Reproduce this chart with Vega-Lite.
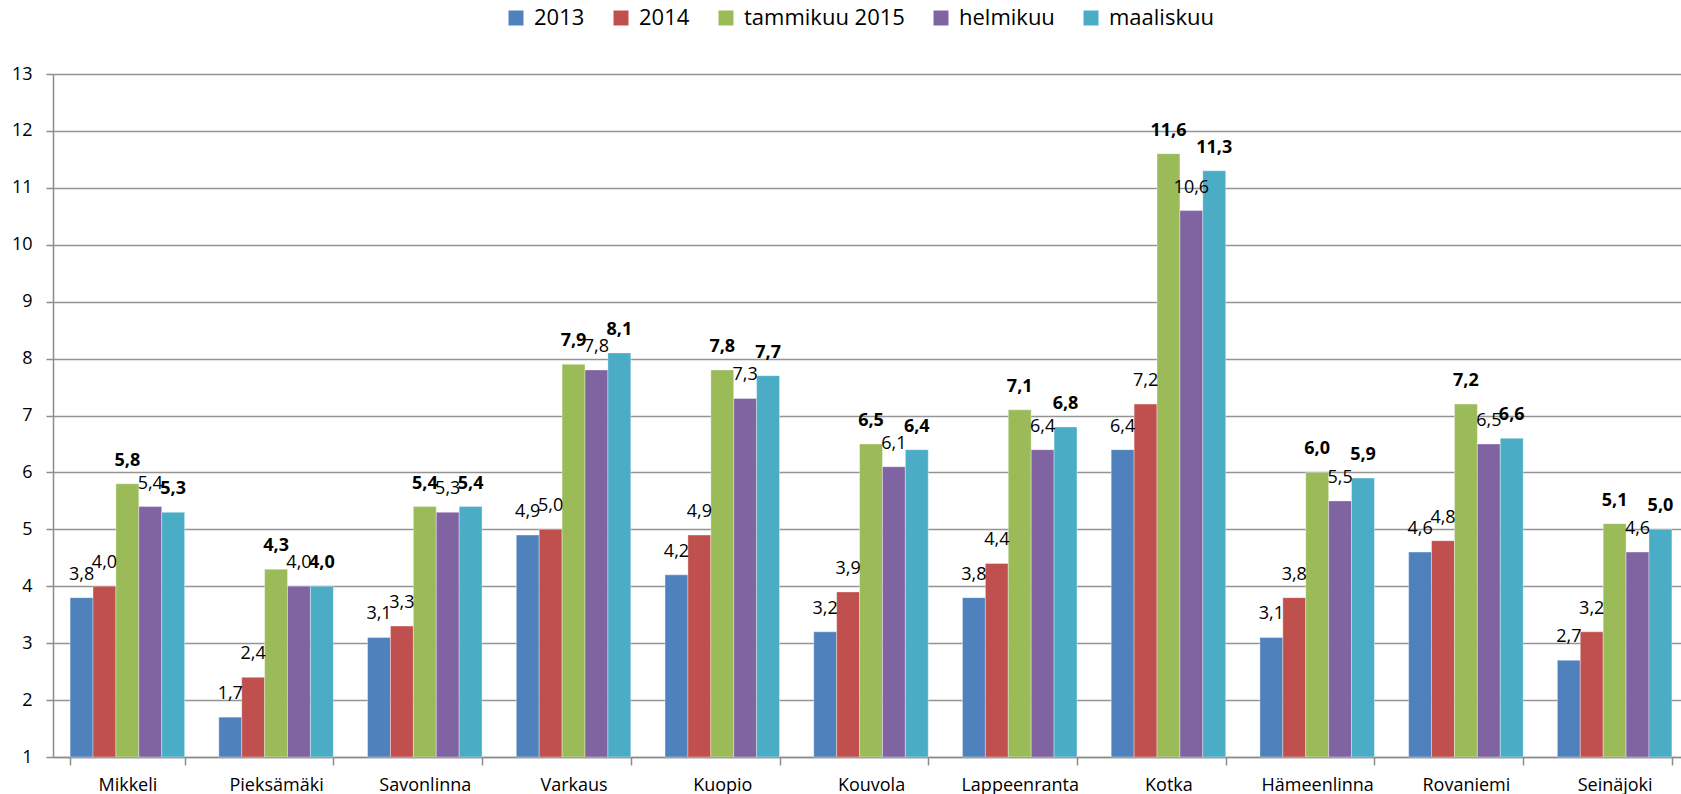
{
  "$schema": "https://vega.github.io/schema/vega-lite/v6.json",
  "width": 1628,
  "height": 683,
  "autosize": {"type": "none"},
  "padding": {"left": 53, "top": 74, "right": 0, "bottom": 37},
  "background": "white",
  "config": {
    "view": {"stroke": null},
    "font": "Open Sans",
    "axis": {"labelFont": "Open Sans", "labelColor": "#000000"},
    "legend": {"labelFont": "Open Sans"}
  },
  "data": {
    "values": [
      {"kaupunki": "Mikkeli", "sarja": "2013", "arvo": 3.8},
      {"kaupunki": "Mikkeli", "sarja": "2014", "arvo": 4.0},
      {"kaupunki": "Mikkeli", "sarja": "tammikuu 2015", "arvo": 5.8},
      {"kaupunki": "Mikkeli", "sarja": "helmikuu", "arvo": 5.4},
      {"kaupunki": "Mikkeli", "sarja": "maaliskuu", "arvo": 5.3},
      {"kaupunki": "Pieksämäki", "sarja": "2013", "arvo": 1.7},
      {"kaupunki": "Pieksämäki", "sarja": "2014", "arvo": 2.4},
      {"kaupunki": "Pieksämäki", "sarja": "tammikuu 2015", "arvo": 4.3},
      {"kaupunki": "Pieksämäki", "sarja": "helmikuu", "arvo": 4.0},
      {"kaupunki": "Pieksämäki", "sarja": "maaliskuu", "arvo": 4.0},
      {"kaupunki": "Savonlinna", "sarja": "2013", "arvo": 3.1},
      {"kaupunki": "Savonlinna", "sarja": "2014", "arvo": 3.3},
      {"kaupunki": "Savonlinna", "sarja": "tammikuu 2015", "arvo": 5.4},
      {"kaupunki": "Savonlinna", "sarja": "helmikuu", "arvo": 5.3},
      {"kaupunki": "Savonlinna", "sarja": "maaliskuu", "arvo": 5.4},
      {"kaupunki": "Varkaus", "sarja": "2013", "arvo": 4.9},
      {"kaupunki": "Varkaus", "sarja": "2014", "arvo": 5.0},
      {"kaupunki": "Varkaus", "sarja": "tammikuu 2015", "arvo": 7.9},
      {"kaupunki": "Varkaus", "sarja": "helmikuu", "arvo": 7.8},
      {"kaupunki": "Varkaus", "sarja": "maaliskuu", "arvo": 8.1},
      {"kaupunki": "Kuopio", "sarja": "2013", "arvo": 4.2},
      {"kaupunki": "Kuopio", "sarja": "2014", "arvo": 4.9},
      {"kaupunki": "Kuopio", "sarja": "tammikuu 2015", "arvo": 7.8},
      {"kaupunki": "Kuopio", "sarja": "helmikuu", "arvo": 7.3},
      {"kaupunki": "Kuopio", "sarja": "maaliskuu", "arvo": 7.7},
      {"kaupunki": "Kouvola", "sarja": "2013", "arvo": 3.2},
      {"kaupunki": "Kouvola", "sarja": "2014", "arvo": 3.9},
      {"kaupunki": "Kouvola", "sarja": "tammikuu 2015", "arvo": 6.5},
      {"kaupunki": "Kouvola", "sarja": "helmikuu", "arvo": 6.1},
      {"kaupunki": "Kouvola", "sarja": "maaliskuu", "arvo": 6.4},
      {"kaupunki": "Lappeenranta", "sarja": "2013", "arvo": 3.8},
      {"kaupunki": "Lappeenranta", "sarja": "2014", "arvo": 4.4},
      {"kaupunki": "Lappeenranta", "sarja": "tammikuu 2015", "arvo": 7.1},
      {"kaupunki": "Lappeenranta", "sarja": "helmikuu", "arvo": 6.4},
      {"kaupunki": "Lappeenranta", "sarja": "maaliskuu", "arvo": 6.8},
      {"kaupunki": "Kotka", "sarja": "2013", "arvo": 6.4},
      {"kaupunki": "Kotka", "sarja": "2014", "arvo": 7.2},
      {"kaupunki": "Kotka", "sarja": "tammikuu 2015", "arvo": 11.6},
      {"kaupunki": "Kotka", "sarja": "helmikuu", "arvo": 10.6},
      {"kaupunki": "Kotka", "sarja": "maaliskuu", "arvo": 11.3},
      {"kaupunki": "Hämeenlinna", "sarja": "2013", "arvo": 3.1},
      {"kaupunki": "Hämeenlinna", "sarja": "2014", "arvo": 3.8},
      {"kaupunki": "Hämeenlinna", "sarja": "tammikuu 2015", "arvo": 6.0},
      {"kaupunki": "Hämeenlinna", "sarja": "helmikuu", "arvo": 5.5},
      {"kaupunki": "Hämeenlinna", "sarja": "maaliskuu", "arvo": 5.9},
      {"kaupunki": "Rovaniemi", "sarja": "2013", "arvo": 4.6},
      {"kaupunki": "Rovaniemi", "sarja": "2014", "arvo": 4.8},
      {"kaupunki": "Rovaniemi", "sarja": "tammikuu 2015", "arvo": 7.2},
      {"kaupunki": "Rovaniemi", "sarja": "helmikuu", "arvo": 6.5},
      {"kaupunki": "Rovaniemi", "sarja": "maaliskuu", "arvo": 6.6},
      {"kaupunki": "Seinäjoki", "sarja": "2013", "arvo": 2.7},
      {"kaupunki": "Seinäjoki", "sarja": "2014", "arvo": 3.2},
      {"kaupunki": "Seinäjoki", "sarja": "tammikuu 2015", "arvo": 5.1},
      {"kaupunki": "Seinäjoki", "sarja": "helmikuu", "arvo": 4.6},
      {"kaupunki": "Seinäjoki", "sarja": "maaliskuu", "arvo": 5.0}
    ]
  },
  "transform": [
    {"calculate": "replace(format(datum.arvo, '.1f'), '.', ',')", "as": "nimiö"}
  ],
  "encoding": {
    "x": {
      "field": "kaupunki",
      "type": "nominal",
      "sort": null,
      "title": null,
      "scale": {"range": [0, 1636], "paddingInner": 0.23, "paddingOuter": 0.115},
      "axis": {
        "labelAngle": 0,
        "labelFontSize": 18,
        "labelBaseline": "alphabetic",
        "tickBand": "extent",
        "tickSize": 8,
        "tickColor": "#8c8c8c",
        "tickWidth": 1.5,
        "labelPadding": 25,
        "domainColor": "#8c8c8c",
        "domainWidth": 1.5,
        "grid": false
      }
    },
    "xOffset": {
      "field": "sarja",
      "type": "nominal",
      "sort": ["2013", "2014", "tammikuu 2015", "helmikuu", "maaliskuu"],
      "scale": {"paddingInner": 0, "paddingOuter": 0}
    },
    "y": {
      "field": "arvo",
      "type": "quantitative",
      "title": null,
      "scale": {"domain": [1, 13], "nice": false, "zero": false},
      "axis": {
        "values": [1, 2, 3, 4, 5, 6, 7, 8, 9, 10, 11, 12, 13],
        "labelFontSize": 18,
        "tickSize": 7,
        "tickColor": "#8c8c8c",
        "tickWidth": 1.5,
        "labelPadding": 14,
        "domainColor": "#8c8c8c",
        "domainWidth": 1.5,
        "gridColor": "#949494",
        "gridWidth": 1.7
      }
    }
  },
  "layer": [
    {
      "mark": {"type": "bar", "stroke": "#ffffff", "strokeWidth": 0.6, "strokeOpacity": 0.6},
      "encoding": {
        "y2": {"datum": 1},
        "color": {
          "field": "sarja",
          "type": "nominal",
          "title": null,
          "scale": {
            "domain": ["2013", "2014", "tammikuu 2015", "helmikuu", "maaliskuu"],
            "range": ["#4F81BD", "#C0504D", "#9BBB59", "#8064A2", "#4BACC6"]
          },
          "legend": {
            "orient": "none",
            "direction": "horizontal",
            "legendX": 452,
            "legendY": -67,
            "symbolType": "square",
            "symbolSize": 225,
            "symbolStrokeWidth": 0,
            "symbolOpacity": 1,
            "labelFontSize": 22,
            "labelColor": "#000000",
            "labelOffset": 7,
            "columnPadding": 25,
            "labelLimit": 400
          }
        }
      }
    },
    {
      "transform": [{"filter": "datum.sarja == '2013' || datum.sarja == '2014' || datum.sarja == 'helmikuu'"}],
      "mark": {"type": "text", "fontSize": 18, "baseline": "middle", "dy": -23, "color": "#000000", "font": "Open Sans"},
      "encoding": {"text": {"field": "nimiö"}}
    },
    {
      "transform": [{"filter": "datum.sarja == 'tammikuu 2015' || datum.sarja == 'maaliskuu'"}],
      "mark": {"type": "text", "fontSize": 18, "fontWeight": "bold", "baseline": "middle", "dy": -23, "color": "#000000", "font": "Open Sans"},
      "encoding": {"text": {"field": "nimiö"}}
    }
  ]
}
